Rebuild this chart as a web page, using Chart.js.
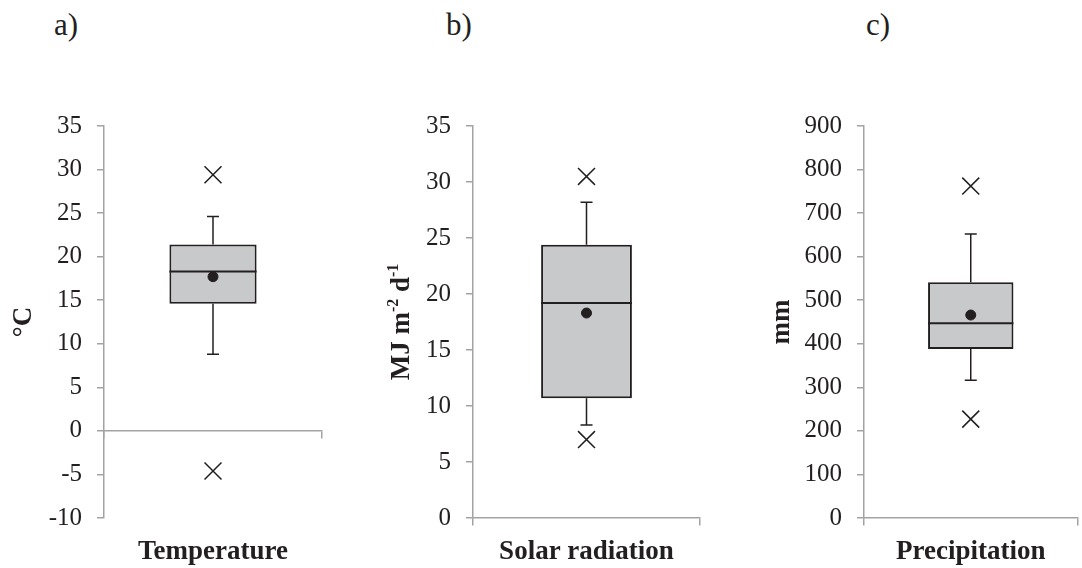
<!DOCTYPE html>
<html>
<head>
<meta charset="utf-8">
<script src="https://cdn.jsdelivr.net/npm/chart.js@4.4.1/dist/chart.umd.min.js"></script>
<style>
  body { margin: 0; background: #fff; }
  #wrap { position: relative; width: 1082px; height: 568px; overflow: hidden; }
  .panel { position: absolute; top: 0; height: 568px; }
  .tag { position: absolute; top: 7px; font: 31px 'Liberation Serif', 'Times New Roman', serif; color: #231f20; }
</style>
</head>
<body>
<div id="wrap">
  <div class="tag" style="left:54px">a)</div>
  <div class="tag" style="left:446px">b)</div>
  <div class="tag" style="left:866px">c)</div>
  <div class="panel" style="left:0;width:360px"><canvas id="c0"></canvas></div>
  <div class="panel" style="left:360px;width:360px"><canvas id="c1"></canvas></div>
  <!-- a bit wider than the page: chart.js keeps ~13px on the right here -->
  <div class="panel" style="left:720px;width:371px"><canvas id="c2"></canvas></div>
</div>
<script>
// box plot summaries
const variables = ['Temperature', 'Solar radiation', 'Precipitation'];
const q1Vals = [14.6, 10.7, 388];
const medianVals = [18.3, 19.2, 447];
const q3Vals = [21.4, 24.4, 541];
const meanVals = [17.7, 18.3, 466];
const whiskerLow = [8.8, 8.3, 316];
const whiskerHigh = [24.6, 28.2, 652];
const outlierLow = [-4.6, 7.0, 227];
const outlierHigh = [29.4, 30.5, 762];

// axes
const yMin = [-10, 0, 0];
const yMax = [35, 35, 900];
const yStep = [5, 5, 100];
// y titles as runs of [text, isSuperscript]
const yTitles = [
  [['°C', false]],
  [['MJ m', false], ['-2', true], [' d', false], ['-1', true]],
  [['mm', false]]
];

const serif = "'Liberation Serif', 'Times New Roman', serif";
const ink = '#231f20';
const axisGray = '#a3a3a3';

// layout per panel (canvas local px)
const yAxisWidth = [104, 113, 144];
const rightPad = [38, 20, 4];
const titleX = [24, 42, 62];

function noSidePad(s) {
  s.paddingLeft = 0;
  s.paddingRight = 0;
}

const boxPlugin = {
  id: 'boxExtras',
  afterDatasetDraw(chart, args) {
    if (args.index !== 0) return;
    const i = chart.options.plugins.boxExtras.idx;
    const y = chart.scales.y;
    const bar = args.meta.data[0];
    const ctx = chart.ctx;
    const x = bar.x, half = bar.width / 2, cap = 6;
    ctx.save();
    ctx.strokeStyle = ink;
    // median
    ctx.lineWidth = 2;
    ctx.beginPath();
    ctx.moveTo(x - half, y.getPixelForValue(medianVals[i]));
    ctx.lineTo(x + half, y.getPixelForValue(medianVals[i]));
    ctx.stroke();
    // whiskers
    ctx.lineWidth = 1.5;
    [[q3Vals[i], whiskerHigh[i]], [q1Vals[i], whiskerLow[i]]].forEach(([from, to]) => {
      const y0 = y.getPixelForValue(from), y1 = y.getPixelForValue(to);
      ctx.beginPath();
      ctx.moveTo(x, y0);
      ctx.lineTo(x, y1);
      ctx.moveTo(x - cap, y1);
      ctx.lineTo(x + cap, y1);
      ctx.stroke();
    });
    ctx.restore();
  },
  afterDraw(chart) {
    const i = chart.options.plugins.boxExtras.idx;
    const ctx = chart.ctx;
    const area = chart.chartArea;
    const runs = yTitles[i];
    const big = 'bold 27px ' + serif, small = 'bold 16px ' + serif;
    ctx.save();
    let total = 0;
    runs.forEach(([t, sup]) => { ctx.font = sup ? small : big; total += ctx.measureText(t).width; });
    ctx.translate(titleX[i], (area.top + area.bottom) / 2);
    ctx.rotate(-Math.PI / 2);
    ctx.fillStyle = ink;
    ctx.textBaseline = 'middle';
    let pos = -total / 2;
    runs.forEach(([t, sup]) => {
      ctx.font = sup ? small : big;
      ctx.fillText(t, pos, sup ? -8 : 0);
      pos += ctx.measureText(t).width;
    });
    ctx.restore();
  }
};

function makePanel(i) {
  const name = variables[i];
  new Chart(document.getElementById('c' + i), {
    type: 'bar',
    data: {
      labels: [name],
      datasets: [
        {
          data: [[q1Vals[i], q3Vals[i]]],
          backgroundColor: '#c8c9cb',
          borderColor: ink,
          borderWidth: 2,
          borderSkipped: false,
          barPercentage: 0.4,
          categoryPercentage: 1,
          order: 2
        },
        {
          type: 'line',
          data: [{ x: name, y: meanVals[i] }],
          showLine: false,
          pointStyle: 'circle',
          pointRadius: 5,
          pointBackgroundColor: ink,
          pointBorderColor: ink,
          order: 0
        },
        {
          type: 'line',
          data: [{ x: name, y: outlierHigh[i] }, { x: name, y: outlierLow[i] }],
          showLine: false,
          pointStyle: 'crossRot',
          pointRadius: 12,
          pointBorderWidth: 1.5,
          pointBorderColor: ink,
          order: 1
        }
      ]
    },
    options: {
      responsive: true,
      maintainAspectRatio: false,
      animation: false,
      layout: { padding: { top: 126, right: rightPad[i], left: 0, bottom: 0 } },
      plugins: { legend: { display: false }, tooltip: { enabled: false }, boxExtras: { idx: i } },
      scales: {
        x: {
          type: 'category',
          position: { y: 0 },
          offset: true,
          grid: { display: true, drawOnChartArea: false, offset: true, tickLength: 7, color: axisGray, lineWidth: 1.5 },
          border: { color: axisGray, width: 1.5 },
          ticks: { display: false },
          afterFit: noSidePad
        },
        xName: {
          type: 'category',
          position: 'bottom',
          labels: [name],
          offset: true,
          grid: { display: false, drawTicks: false },
          border: { display: false },
          ticks: { color: ink, padding: 18, font: { family: serif, size: 27, weight: 'bold' } },
          afterFit(s) { s.height = 50; noSidePad(s); }
        },
        y: {
          min: yMin[i],
          max: yMax[i],
          ticks: { stepSize: yStep[i], color: ink, padding: 15, font: { family: serif, size: 25 } },
          grid: { display: true, drawOnChartArea: false, tickLength: 7, color: axisGray, lineWidth: 1.5 },
          border: { color: axisGray, width: 1.5 },
          afterFit(s) { s.width = yAxisWidth[i]; }
        }
      }
    },
    plugins: [boxPlugin]
  });
}

[0, 1, 2].forEach(makePanel);
</script>
</body>
</html>
